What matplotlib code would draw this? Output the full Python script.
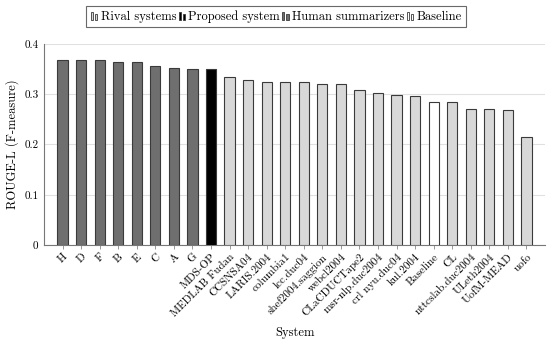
import matplotlib
matplotlib.use("Agg")
import matplotlib.pyplot as plt
from matplotlib.patches import Rectangle
from matplotlib.legend_handler import HandlerBase

plt.rcParams['font.family'] = ['cmr10', 'DejaVu Serif']
plt.rcParams['axes.formatter.use_mathtext'] = True
plt.rcParams['mathtext.fontset'] = 'cm'

systems = ["H", "D", "F", "B", "E", "C", "A", "G", "MDS-OP", "MEDLAB Fudan",
           "CCSNSA04", "LARIS.2004", "columbia1", "lcc.duc04", "shef2004.saggion",
           "webcl2004", "CLaCDUCTape2", "msr-nlp.duc2004", "crl nyu.duc04",
           "kul.2004", "Baseline", "CL", "nttcslab.duc2004", "ULeth2004",
           "UofM-MEAD", "uofo"]
scores = [0.369, 0.369, 0.368, 0.365, 0.364, 0.356, 0.352, 0.350, 0.350, 0.334,
          0.329, 0.324, 0.324, 0.324, 0.321, 0.320, 0.308, 0.302, 0.299,
          0.297, 0.285, 0.285, 0.271, 0.270, 0.268, 0.215]
groups = ["human"] * 8 + ["proposed"] + ["rival"] * 11 + ["baseline"] + ["rival"] * 5

colors = {"rival": "#d8d8d8", "proposed": "#000000", "human": "#6f6f6f", "baseline": "#ffffff"}
legend_labels = [("rival", "Rival systems"), ("proposed", "Proposed system"),
                 ("human", "Human summarizers"), ("baseline", "Baseline")]
edge = "#3a3a3a"

fig = plt.figure(figsize=(5.5, 3.41), dpi=100)
ax = fig.add_axes([0.08, 0.2815, 0.911, 0.5895])

x = list(range(len(systems)))
ax.bar(x, scores, width=0.55, color=[colors[g] for g in groups],
       edgecolor=edge, linewidth=0.8, zorder=3)

ax.set_xlim(-1, len(systems))
ax.set_ylim(0, 0.4)
ax.set_yticks([0, 0.1, 0.2, 0.3, 0.4])
ax.set_yticklabels(["0", "0.1", "0.2", "0.3", "0.4"])
ax.set_xticks(x)
ax.set_xticklabels(systems, rotation=45, ha="right", rotation_mode="anchor", fontsize=8)
ax.tick_params(axis="y", length=0, labelsize=8, pad=4)
ax.tick_params(axis="x", length=3, color="#888888", width=0.6, pad=2)
ax.yaxis.grid(True, color="#e0e0e0", linewidth=0.8, zorder=0)
ax.set_axisbelow(True)
for s in ["top", "right"]:
    ax.spines[s].set_visible(False)
for s in ["left", "bottom"]:
    ax.spines[s].set_color("#777777")
    ax.spines[s].set_linewidth(0.8)

ax.set_ylabel("ROUGE-L (F-measure)", fontsize=9)
ax.set_xlabel("System", fontsize=9, labelpad=6)


class TwoBars(HandlerBase):
    def create_artists(self, legend, orig_handle, xdescent, ydescent, width, height, fontsize, trans):
        fc = orig_handle.get_facecolor()
        bw = width * 0.3
        r1 = Rectangle((-xdescent + width * 0.05, -ydescent), bw, height * 0.85,
                       facecolor=fc, edgecolor=edge, linewidth=0.6, transform=trans)
        r2 = Rectangle((-xdescent + width * 0.6, -ydescent), bw, height * 0.7,
                       facecolor=fc, edgecolor=edge, linewidth=0.6, transform=trans)
        return [r1, r2]


handles = [Rectangle((0, 0), 1, 1, facecolor=colors[k]) for k, _ in legend_labels]
labels = [l for _, l in legend_labels]
leg = fig.legend(handles, labels, loc="upper center", bbox_to_anchor=(0.502, 0.99),
                 ncol=4, fontsize=9, frameon=True, fancybox=False, edgecolor="#444444",
                 handler_map={Rectangle: TwoBars()}, handlelength=0.6, handletextpad=0.2,
                 columnspacing=0.15, borderpad=0.35, borderaxespad=0.2)
leg.get_frame().set_linewidth(0.8)

fig.savefig("out.png", dpi=100)
